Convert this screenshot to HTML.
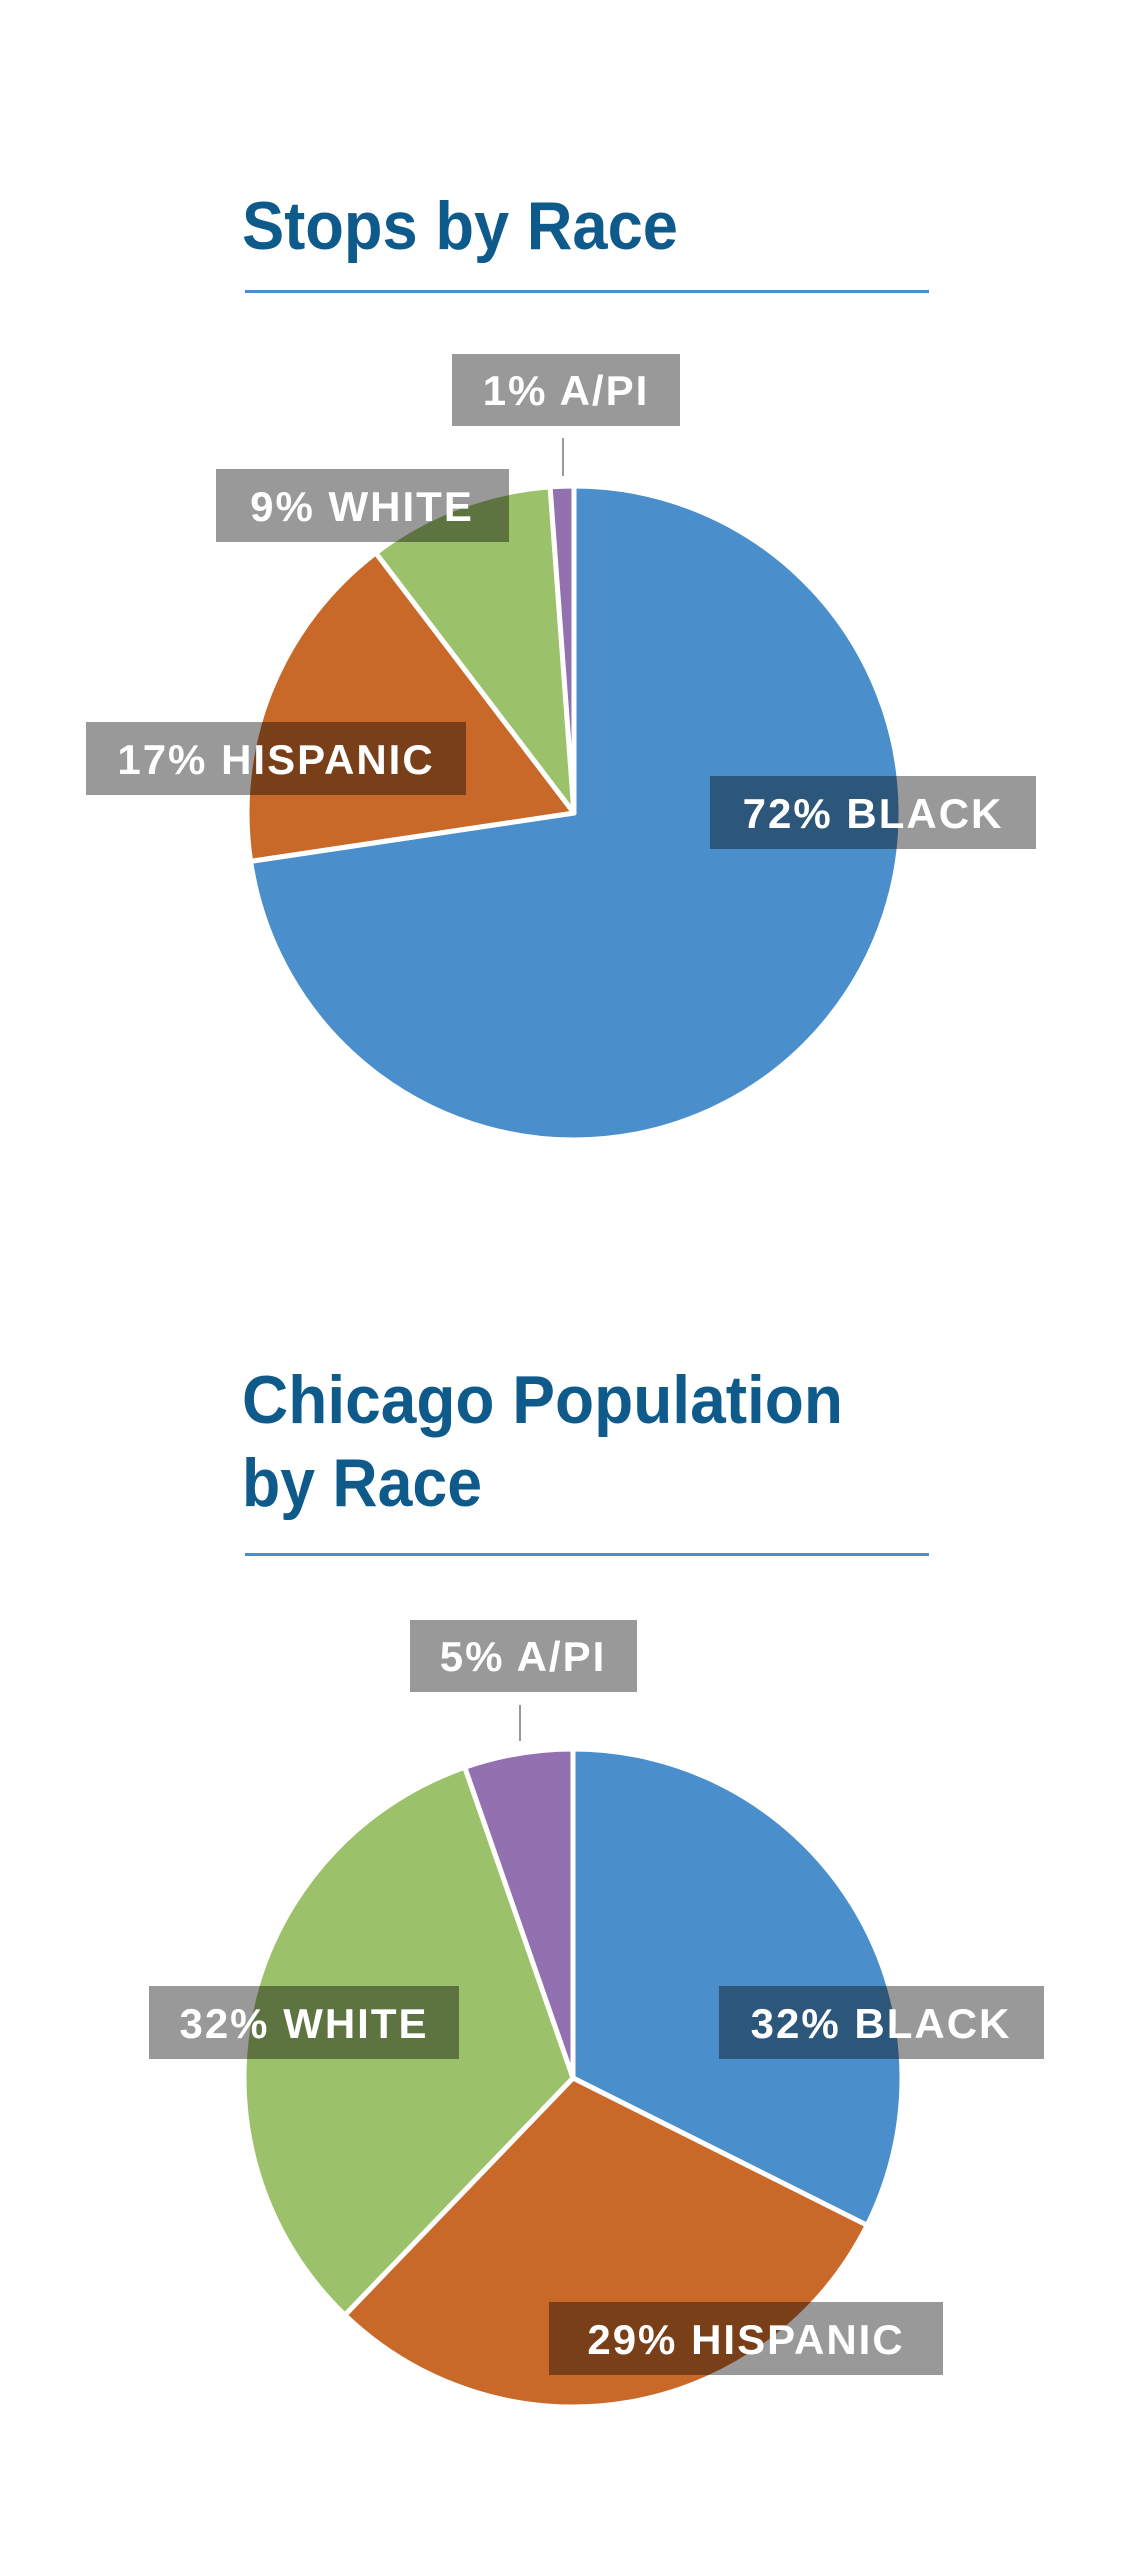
<!DOCTYPE html>
<html><head><meta charset="utf-8"><style>
html,body{margin:0;padding:0;background:#fff;}
svg{display:block;}
.t{font-family:"Liberation Sans",sans-serif;font-weight:bold;fill:#0E5A8A;font-size:68px;}
.l{font-family:"Liberation Sans",sans-serif;font-weight:bold;fill:#fff;font-size:42px;letter-spacing:2px;text-anchor:middle;}
.b{fill:rgba(0,0,0,0.4);}
</style></head><body>
<svg width="1134" height="2560" viewBox="0 0 1134 2560" xmlns="http://www.w3.org/2000/svg">
<text class="t" x="242" y="249" textLength="436" lengthAdjust="spacingAndGlyphs">Stops by Race</text>
<rect x="245" y="290" width="684" height="3" fill="#4A8FCC"/>
<g stroke="#fff" stroke-width="5" stroke-linejoin="round">
<path d="M574,813 L574,486 A327,327 0 1 1 250.6,861.3 Z" fill="#4A8FCC"/>
<path d="M574,813 L250.6,861.3 A327,327 0 0 1 375.8,552.9 Z" fill="#C8692A"/>
<path d="M574,813 L375.8,552.9 A327,327 0 0 1 550.1,486.9 Z" fill="#9BC16B"/>
<path d="M574,813 L550.1,486.9 A327,327 0 0 1 574,486 Z" fill="#9370B0"/>
</g>
<line x1="563" y1="438" x2="563" y2="476" stroke="#999" stroke-width="2"/>
<rect class="b" x="452" y="354" width="228" height="72"/><text class="l" x="566" y="405">1% A/PI</text>
<rect class="b" x="216" y="469" width="293" height="73"/><text class="l" x="362" y="521">9% WHITE</text>
<rect class="b" x="86" y="722" width="380" height="73"/><text class="l" x="276" y="774">17% HISPANIC</text>
<rect class="b" x="710" y="776" width="326" height="73"/><text class="l" x="873" y="828">72% BLACK</text>

<text class="t" x="242" y="1423" textLength="601" lengthAdjust="spacingAndGlyphs">Chicago Population</text>
<text class="t" x="242" y="1506" textLength="240" lengthAdjust="spacingAndGlyphs">by Race</text>
<rect x="245" y="1553" width="684" height="3" fill="#4A8FCC"/>
<g stroke="#fff" stroke-width="5" stroke-linejoin="round">
<path d="M573,2078 L573,1749 A329,329 0 0 1 867.2,2225.3 Z" fill="#4A8FCC"/>
<path d="M573,2078 L867.2,2225.3 A329,329 0 0 1 344.9,2315.1 Z" fill="#C8692A"/>
<path d="M573,2078 L344.9,2315.1 A329,329 0 0 1 464.8,1767.3 Z" fill="#9BC16B"/>
<path d="M573,2078 L464.8,1767.3 A329,329 0 0 1 573,1749 Z" fill="#9370B0"/>
</g>
<line x1="520" y1="1705" x2="520" y2="1741" stroke="#999" stroke-width="2"/>
<rect class="b" x="410" y="1620" width="227" height="72"/><text class="l" x="523" y="1671">5% A/PI</text>
<rect class="b" x="149" y="1986" width="310" height="73"/><text class="l" x="304" y="2038">32% WHITE</text>
<rect class="b" x="719" y="1986" width="325" height="73"/><text class="l" x="881" y="2038">32% BLACK</text>
<rect class="b" x="549" y="2302" width="394" height="73"/><text class="l" x="746" y="2354">29% HISPANIC</text>
</svg>
</body></html>
